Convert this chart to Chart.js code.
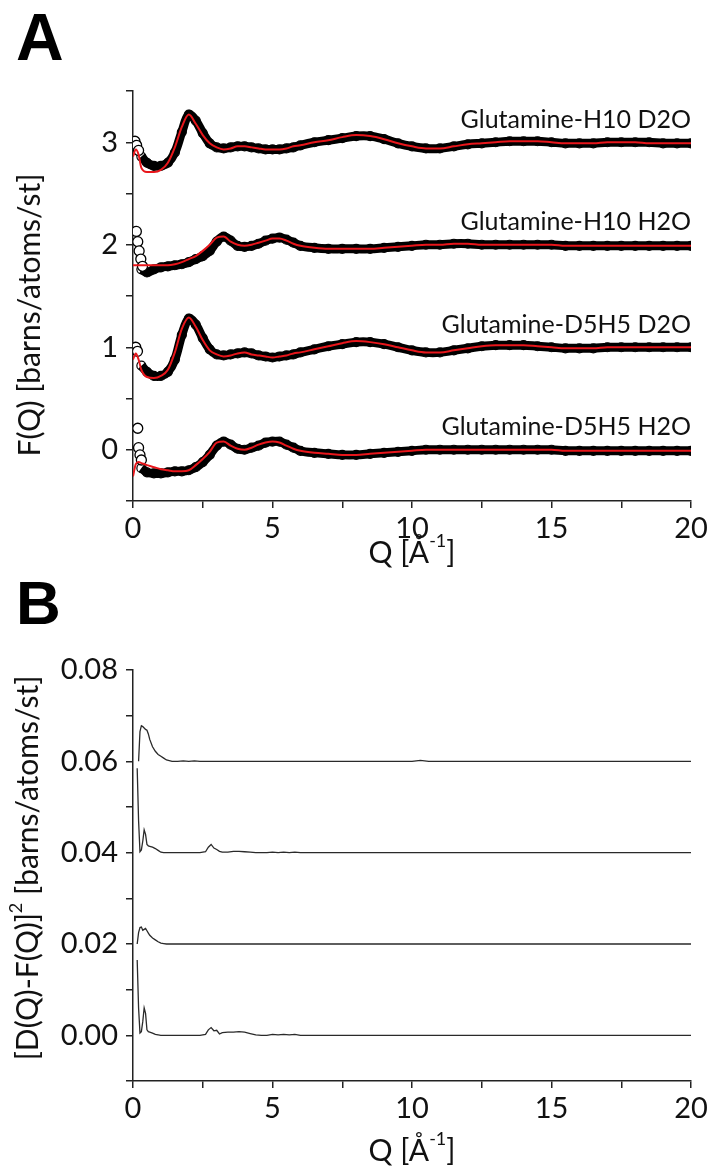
<!DOCTYPE html>
<html>
<head>
<meta charset="utf-8">
<script src="https://cdn.jsdelivr.net/npm/chart.js@4"></script>
<style>
  html, body { margin: 0; padding: 0; background: #fff; }
  #wrap { position: relative; width: 714px; height: 1172px; overflow: hidden; }
  canvas { position: absolute; left: 0; }
  .panel { position: absolute; left: 16px; font-family: "Liberation Sans", Arial, sans-serif; font-weight: bold; line-height: 1; color: #000; }
</style>
</head>
<body>
<div id="wrap">
  <div class="panel" style="top:4px;font-size:66px">A</div>
  <div class="panel" style="top:572px;font-size:62px">B</div>
  <canvas id="chartA" width="714" height="575" style="top:0"></canvas>
  <canvas id="chartB" width="714" height="602" style="top:570px"></canvas>
</div>
<script>
// ---- panel A: F(Q), four samples shifted by 0,1,2,3 ----
const seriesNames = ['Glutamine-H10 D2O', 'Glutamine-H10 H2O', 'Glutamine-D5H5 D2O', 'Glutamine-D5H5 H2O'];
const offsets = [3, 2, 1, 0];

const qFit = [0, 0.1, 0.2, 0.3, 0.5, 0.75, 1, 1.25, 1.5, 1.75, 2, 2.25, 2.5, 2.75, 3, 3.25, 3.5, 3.75, 4, 4.25, 4.5, 4.75, 5, 5.25, 5.5, 5.75, 6,
  6.5, 7, 7.5, 8, 8.5, 9, 9.5, 10, 10.5, 11, 11.5, 12, 12.5, 13, 13.5, 14, 14.5, 15, 15.5, 16, 16.5, 17, 17.5, 18, 18.5, 19, 19.5, 20];
const qData = [0.3, 0.5, 0.75, 1, 1.25, 1.5, 1.75, 2, 2.25, 2.5, 2.75, 3, 3.25, 3.5, 3.75, 4, 4.25, 4.5, 4.75, 5, 5.25, 5.5, 5.75, 6,
  6.5, 7, 7.5, 8, 8.5, 9, 9.5, 10, 10.5, 11, 11.5, 12, 12.5, 13, 13.5, 14, 14.5, 15, 15.5, 16, 16.5, 17, 17.5, 18, 18.5, 19, 19.5, 20];

// red fits
const fitH10D2O = [2.86, 2.93, 2.88, 2.75, 2.71, 2.71, 2.73, 2.80, 2.95, 3.15, 3.27, 3.18, 3.07, 2.99, 2.95, 2.93, 2.94, 2.96, 2.96, 2.95, 2.94, 2.93, 2.93, 2.93, 2.94, 2.96, 2.97,
  3.00, 3.02, 3.05, 3.07, 3.06, 3.03, 2.99, 2.96, 2.94, 2.94, 2.96, 2.98, 2.99, 3.00, 3.01, 3.01, 3.01, 3.00, 2.99, 2.99, 2.99, 3.00, 3.00, 3.00, 2.99, 2.99, 2.99, 2.99];
const fitH10H2O = [1.80, 1.80, 1.80, 1.80, 1.80, 1.80, 1.80, 1.80, 1.81, 1.83, 1.86, 1.89, 1.94, 2.00, 2.07, 2.08, 2.03, 2.00, 1.99, 2.00, 2.02, 2.04, 2.06, 2.06, 2.04, 2.01, 1.99,
  1.97, 1.96, 1.96, 1.96, 1.96, 1.97, 1.98, 1.99, 2.00, 2.00, 2.01, 2.01, 2.00, 2.00, 2.00, 2.00, 2.00, 2.00, 1.99, 1.99, 1.99, 1.99, 1.99, 1.99, 1.99, 1.99, 1.99, 1.99];
const fitD5H5D2O = [0.88, 0.94, 0.88, 0.78, 0.71, 0.70, 0.72, 0.78, 0.95, 1.18, 1.29, 1.20, 1.07, 0.97, 0.93, 0.91, 0.92, 0.94, 0.95, 0.93, 0.92, 0.91, 0.90, 0.91, 0.92, 0.94, 0.95,
  0.98, 1.01, 1.04, 1.06, 1.05, 1.03, 1.00, 0.97, 0.95, 0.95, 0.97, 0.99, 1.01, 1.02, 1.02, 1.02, 1.01, 1.00, 0.99, 0.99, 0.99, 1.00, 1.00, 1.00, 1.00, 1.00, 1.00, 1.00];
const fitD5H5H2O = [-0.26, -0.14, -0.12, -0.13, -0.15, -0.17, -0.19, -0.20, -0.21, -0.21, -0.20, -0.15, -0.09, -0.02, 0.07, 0.08, 0.04, 0.01, 0.00, 0.02, 0.05, 0.07, 0.08, 0.07, 0.04, 0.01, -0.01,
  -0.03, -0.04, -0.05, -0.05, -0.04, -0.03, -0.02, -0.01, 0.00, 0.00, 0.00, 0.00, 0.00, 0.00, 0.00, 0.00, 0.00, 0.00, -0.01, -0.01, -0.01, -0.01, -0.01, -0.01, -0.01, -0.01, -0.01, -0.01];

// measured data (open circles), drawn as a dense band
const dataH10D2O = [2.86, 2.80, 2.77, 2.77, 2.80, 2.90, 3.10, 3.27, 3.21, 3.09, 2.99, 2.95, 2.94, 2.95, 2.96, 2.96, 2.95, 2.94, 2.93, 2.93, 2.93, 2.94, 2.95, 2.97,
  3.00, 3.02, 3.04, 3.06, 3.06, 3.03, 2.99, 2.96, 2.94, 2.94, 2.96, 2.98, 2.99, 3.00, 3.01, 3.01, 3.01, 3.00, 2.99, 2.99, 2.99, 3.00, 3.00, 3.00, 3.00, 2.99, 2.99, 2.99];
const dataH10H2O = [1.76, 1.73, 1.76, 1.78, 1.79, 1.80, 1.81, 1.83, 1.86, 1.89, 1.94, 2.03, 2.08, 2.04, 1.99, 1.98, 1.99, 2.01, 2.04, 2.06, 2.07, 2.05, 2.02, 1.99,
  1.97, 1.96, 1.96, 1.96, 1.96, 1.97, 1.98, 1.99, 2.00, 2.00, 2.01, 2.01, 2.00, 2.00, 2.00, 2.00, 2.00, 2.00, 1.99, 1.99, 1.99, 1.99, 1.99, 1.99, 1.99, 1.99, 1.99, 1.99];
const dataD5H5D2O = [0.82, 0.76, 0.72, 0.72, 0.76, 0.88, 1.12, 1.28, 1.22, 1.09, 0.98, 0.93, 0.92, 0.93, 0.94, 0.95, 0.94, 0.92, 0.91, 0.90, 0.91, 0.92, 0.93, 0.95,
  0.98, 1.01, 1.03, 1.05, 1.05, 1.03, 1.00, 0.97, 0.95, 0.95, 0.97, 0.99, 1.01, 1.02, 1.02, 1.02, 1.01, 1.00, 0.99, 0.99, 0.99, 1.00, 1.00, 1.00, 1.00, 1.00, 1.00, 1.00];
const dataD5H5H2O = [-0.18, -0.22, -0.23, -0.23, -0.22, -0.21, -0.21, -0.20, -0.17, -0.12, -0.05, 0.04, 0.08, 0.05, 0.01, 0.00, 0.02, 0.04, 0.07, 0.08, 0.08, 0.05, 0.02, -0.01,
  -0.03, -0.04, -0.05, -0.05, -0.04, -0.03, -0.02, -0.01, 0.00, 0.00, 0.00, 0.00, 0.00, 0.00, 0.00, 0.00, 0.00, 0.00, -0.01, -0.01, -0.01, -0.01, -0.01, -0.01, -0.01, -0.01, -0.01, -0.01];

// lowest-Q points that stand off the band
const lowQH10D2O = [[0.07, 3.01], [0.13, 2.97], [0.2, 2.92]];
const lowQH10H2O = [[0.12, 2.13], [0.17, 2.03], [0.22, 1.94], [0.28, 1.86], [0.34, 1.79]];
const lowQD5H5D2O = [[0.1, 1.0], [0.16, 0.96]];
const lowQD5H5H2O = [[0.17, 0.21], [0.2, 0.02], [0.25, -0.05], [0.3, -0.1]];

// ---- panel B: [D(Q)-F(Q)]^2, shifted by 0.06, 0.04, 0.02, 0 ----
const qDiff = [0.15, 0.2, 0.25, 0.3, 0.35, 0.4, 0.45, 0.5, 0.55, 0.6, 0.7, 0.8, 0.9, 1.0, 1.1, 1.2, 1.4, 1.6, 1.8, 2.0, 2.2, 2.4, 2.6,
  2.7, 2.8, 2.9, 3.0, 3.1, 3.2, 3.4, 3.6, 3.8, 4.0, 4.2, 4.4, 4.6, 4.8, 5.0, 5.2, 5.4, 5.6, 5.8, 6.0, 6.5, 7, 8, 9, 10, 10.3, 10.6, 11, 12, 14, 16, 18, 20];
const diffH10D2O = [null, 0.0600, 0.0665, 0.0678, 0.0676, 0.0673, 0.0670, 0.0668, 0.0660, 0.0648, 0.0632, 0.0622, 0.0615, 0.0611, 0.0607, 0.0603, 0.0600, 0.0600, 0.0601, 0.0600, 0.0601, 0.0600, 0.0600,
  0.0600, 0.0600, 0.0600, 0.0600, 0.0600, 0.0600, 0.0600, 0.0600, 0.0600, 0.0600, 0.0600, 0.0600, 0.0600, 0.0600, 0.0600, 0.0600, 0.0600, 0.0600, 0.0600, 0.0600, 0.0600, 0.0600, 0.0600, 0.0600, 0.0600, 0.0602, 0.0600, 0.0600, 0.0600, 0.0600, 0.0600, 0.0600, 0.0600];
const diffH10H2O = [0.0585, 0.0470, 0.0402, 0.0406, 0.0425, 0.0450, 0.0440, 0.0418, 0.0415, 0.0414, 0.0412, 0.0409, 0.0405, 0.0401, 0.0400, 0.0400, 0.0400, 0.0400, 0.0400, 0.0400, 0.0400, 0.0400, 0.0402,
  0.0412, 0.0418, 0.0410, 0.0407, 0.0403, 0.0401, 0.0401, 0.0403, 0.0403, 0.0402, 0.0401, 0.0400, 0.0400, 0.0400, 0.0401, 0.0400, 0.0401, 0.0400, 0.0401, 0.0400, 0.0400, 0.0400, 0.0400, 0.0400, 0.0400, 0.0400, 0.0400, 0.0400, 0.0400, 0.0400, 0.0400, 0.0400, 0.0400];
const diffD5H5D2O = [0.0200, 0.0225, 0.0236, 0.0237, 0.0230, 0.0232, 0.0234, 0.0229, 0.0224, 0.0219, 0.0213, 0.0209, 0.0205, 0.0202, 0.0201, 0.0200, 0.0200, 0.0200, 0.0200, 0.0200, 0.0200, 0.0200, 0.0200,
  0.0200, 0.0200, 0.0200, 0.0200, 0.0200, 0.0200, 0.0200, 0.0200, 0.0200, 0.0200, 0.0200, 0.0200, 0.0200, 0.0200, 0.0200, 0.0200, 0.0200, 0.0200, 0.0200, 0.0200, 0.0200, 0.0200, 0.0200, 0.0200, 0.0200, 0.0200, 0.0200, 0.0200, 0.0200, 0.0200, 0.0200, 0.0200, 0.0200];
const diffD5H5H2O = [0.0165, 0.0060, 0.0005, 0.0008, 0.0030, 0.0060, 0.0048, 0.0012, 0.0008, 0.0007, 0.0005, 0.0002, 0.0001, 0.0000, 0.0000, 0.0000, 0.0000, 0.0000, 0.0000, 0.0000, 0.0000, 0.0000, 0.0002,
  0.0012, 0.0017, 0.0010, 0.0011, 0.0003, 0.0006, 0.0007, 0.0007, 0.0008, 0.0007, 0.0004, 0.0001, 0.0000, 0.0000, 0.0002, 0.0001, 0.0002, 0.0001, 0.0002, 0.0000, 0.0000, 0.0000, 0.0000, 0.0000, 0.0000, 0.0000, 0.0000, 0.0000, 0.0000, 0.0000, 0.0000, 0.0000, 0.0000];

const FONT = 'Lato, "Open Sans", sans-serif';
const INK = '#111';
const AXIS = '#222';
const RED = '#e8161b';

const xy = (xs, ys) => xs.map((x, i) => ({ x: x, y: ys[i] }));
const pairs = arr => arr.map(p => ({ x: p[0], y: p[1] }));

// text pieces, some raised as superscripts
function drawParts(ctx, parts, cx, cy, size) {
  const big = size + 'px ' + FONT, small = Math.round(size * 0.6) + 'px ' + FONT;
  let total = 0;
  parts.forEach(p => { ctx.font = p.sup ? small : big; total += ctx.measureText(p.t).width; });
  let x = cx - total / 2;
  ctx.textAlign = 'left';
  parts.forEach(p => {
    ctx.font = p.sup ? small : big;
    ctx.fillText(p.t, x, p.sup ? cy - size * 0.38 : cy);
    x += ctx.measureText(p.t).width;
  });
}

const axisTitles = {
  id: 'axisTitles',
  afterDraw(chart, args, o) {
    const ctx = chart.ctx, a = chart.chartArea;
    ctx.save();
    ctx.fillStyle = INK;
    ctx.textBaseline = 'middle';
    drawParts(ctx, o.x, (a.left + a.right) / 2, o.xY, 30);
    ctx.translate(o.yX, o.yY);
    ctx.rotate(-Math.PI / 2);
    drawParts(ctx, o.y, 0, 0, 30);
    ctx.restore();
  }
};

const seriesLabels = {
  id: 'seriesLabels',
  afterDatasetsDraw(chart) {
    const ctx = chart.ctx, xs = chart.scales.x, ys = chart.scales.y;
    ctx.save();
    ctx.font = '25px ' + FONT;
    ctx.fillStyle = INK;
    ctx.textAlign = 'right';
    ctx.textBaseline = 'alphabetic';
    seriesNames.forEach((name, i) => {
      ctx.fillText(name, xs.getPixelForValue(20), ys.getPixelForValue(offsets[i] + 0.14));
    });
    ctx.restore();
  }
};

function axisStyle() {
  return {
    grid: { drawOnChartArea: false, drawTicks: true, tickLength: 7, color: AXIS, lineWidth: 1.5 },
    border: { color: AXIS, width: 1.5 }
  };
}

function xAxis(h) {
  return Object.assign(axisStyle(), {
    type: 'linear', min: 0, max: 20,
    afterFit: s => { s.height = h; },
    ticks: { stepSize: 2.5, autoSkip: false, maxRotation: 0, padding: 3, color: INK, font: { family: FONT, size: 29 },
      callback: v => (v % 5 === 0 ? String(v) : '') }
  });
}

function draw() {
  const topSets = [
    [fitH10D2O, dataH10D2O, lowQH10D2O],
    [fitH10H2O, dataH10H2O, lowQH10H2O],
    [fitD5H5D2O, dataD5H5D2O, lowQD5H5D2O],
    [fitD5H5H2O, dataD5H5H2O, lowQD5H5H2O]
  ];
  const dsA = [];
  topSets.forEach(([fit, dat, low]) => {
    dsA.push({ data: xy(qData, dat), showLine: true, borderColor: '#000', borderWidth: 9, tension: 0.35,
      pointRadius: 4.5, pointBorderWidth: 1.2, pointBorderColor: '#000', pointBackgroundColor: 'rgba(0,0,0,0)', order: 3 });
    dsA.push({ data: pairs(low), showLine: false, pointRadius: 5, pointBorderWidth: 1.3,
      pointBorderColor: '#000', pointBackgroundColor: '#fff', order: 2 });
    dsA.push({ data: xy(qFit, fit), showLine: true, borderColor: RED, borderWidth: 2, pointRadius: 0,
      cubicInterpolationMode: 'monotone', order: 1 });
  });

  new Chart(document.getElementById('chartA'), {
    type: 'scatter',
    data: { datasets: dsA },
    options: {
      responsive: false, animation: false,
      layout: { padding: { top: 91, right: 23, left: 0, bottom: 0 } },
      plugins: {
        legend: { display: false }, tooltip: { enabled: false },
        axisTitles: {
          x: [{ t: 'Q [Å' }, { t: '-1', sup: true }, { t: ']' }], xY: 553,
          y: [{ t: 'F(Q) [barns/atoms/st]' }], yX: 30, yY: 315
        }
      },
      scales: {
        x: xAxis(74),
        y: Object.assign(axisStyle(), {
          type: 'linear', min: -0.5, max: 3.5,
          afterFit: s => { s.width = 133; },
          ticks: { stepSize: 0.5, autoSkip: false, padding: 8, color: INK, font: { family: FONT, size: 29 },
            callback: v => (Number.isInteger(v) ? String(v) : '') }
        })
      }
    },
    plugins: [axisTitles, seriesLabels]
  });

  const diffs = [diffH10D2O, diffH10H2O, diffD5H5D2O, diffD5H5H2O];
  new Chart(document.getElementById('chartB'), {
    type: 'scatter',
    data: {
      datasets: diffs.map(d => ({ data: xy(qDiff, d), showLine: true, borderColor: '#2a2a2a', borderWidth: 1.3,
        pointRadius: 0, spanGaps: false }))
    },
    options: {
      responsive: false, animation: false,
      layout: { padding: { top: 100, right: 23, left: 0, bottom: 0 } },
      plugins: {
        legend: { display: false }, tooltip: { enabled: false },
        axisTitles: {
          x: [{ t: 'Q [Å' }, { t: '-1', sup: true }, { t: ']' }], xY: 581,
          y: [{ t: '[D(Q)-F(Q)]' }, { t: '2', sup: true }, { t: ' [barns/atoms/st]' }], yX: 28, yY: 298
        }
      },
      scales: {
        x: xAxis(91),
        y: Object.assign(axisStyle(), {
          type: 'linear', min: -0.01, max: 0.08,
          afterFit: s => { s.width = 133; },
          ticks: { stepSize: 0.01, autoSkip: false, padding: 8, color: INK, font: { family: FONT, size: 29 },
            callback: v => (Math.round(v * 100) % 2 === 0 ? v.toFixed(2) : '') }
        })
      }
    },
    plugins: [axisTitles]
  });
}

Promise.all([document.fonts.load('29px Lato'), document.fonts.load('bold 66px "Liberation Sans"')]).then(draw, draw);
</script>
</body>
</html>
